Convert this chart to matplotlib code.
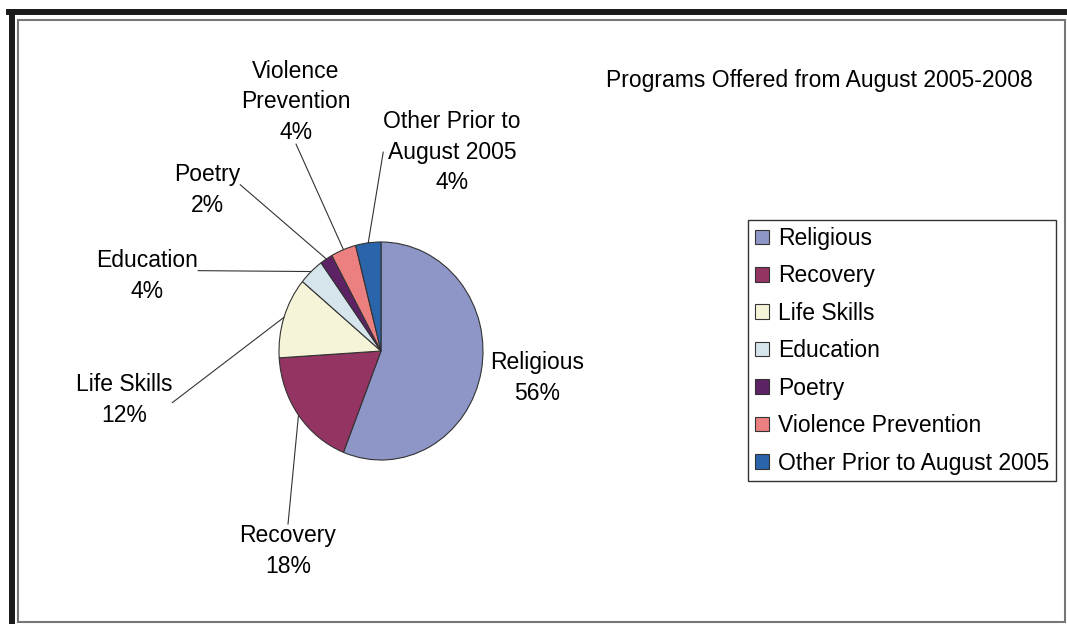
import numpy as np
import matplotlib
matplotlib.use("Agg")
import matplotlib.pyplot as plt
from matplotlib.lines import Line2D
from matplotlib.patches import Rectangle

plt.rcParams['font.family'] = ['Liberation Sans', 'DejaVu Sans']

# data
categories = ["Religious", "Recovery", "Life Skills", "Education", "Poetry",
              "Violence Prevention", "Other Prior to August 2005"]
shares = [56, 18, 12, 4, 2, 4, 4]
colors = ["#8d96c6", "#943462", "#f6f4d8", "#d6e5ec", "#5c2263", "#ec8080", "#2a64aa"]
label_texts = ["Religious", "Recovery", "Life Skills", "Education", "Poetry",
               "Violence\nPrevention", "Other Prior to\nAugust 2005"]

title = "Programs Offered from August 2005-2008"

W, H = 1067, 624
fig = plt.figure(figsize=(W / 100, H / 100), dpi=100)

# pie axes, slightly taller than wide like the original
cx, cy, rx, ry = 381, 351, 102, 109
ax = fig.add_axes([(cx - rx) / W, (H - cy - ry) / H, 2 * rx / W, 2 * ry / H])

wedges, _ = ax.pie(shares, colors=colors, startangle=90, counterclock=False,
                   radius=1, wedgeprops=dict(edgecolor='#333333', linewidth=0.8))
# pie() sets its own limits/aspect, undo that so the pie fills the axes box
ax.set_aspect('auto')
ax.set_xlim(-1, 1)
ax.set_ylim(-1, 1)
ax.axis('off')

# label placement (pixel centre of text block, and where the leader line meets the text)
label_pos = [(537, 378), (288, 551), (124, 400), (147, 276), (207, 190), (296, 102), (452, 152)]
rel_pos = [None, (0.5, 1.0), (1.0, 0.45), (1.0, 0.6), (1.0, 0.6), (0.5, 0.0), (0.0, 0.5)]
fs = 16.5
lsp = 1.42

for w, txt, s, pos, rp in zip(wedges, label_texts, shares, label_pos, rel_pos):
    mid = np.deg2rad((w.theta1 + w.theta2) / 2)
    xy = (np.cos(mid), np.sin(mid))
    label = f"{txt}\n{s}%"
    if rp is None:
        fig.text(pos[0] / W, 1 - pos[1] / H, label, ha='center', va='center',
                 fontsize=fs, linespacing=lsp)
    else:
        ax.annotate(label, xy=xy, xycoords='data',
                    xytext=(pos[0], H - pos[1]), textcoords='figure pixels',
                    ha='center', va='center', fontsize=fs, linespacing=lsp,
                    annotation_clip=False,
                    arrowprops=dict(arrowstyle='-', color='#333333', lw=0.8,
                                    relpos=rp, shrinkA=0, shrinkB=0, patchA=None))

fig.text(606 / W, 1 - 80 / H, title, ha='left', va='center', fontsize=fs)

fig.legend(wedges, categories, loc='upper left',
           bbox_to_anchor=(748 / W, 1 - 220 / H), borderaxespad=0,
           fontsize=fs, handlelength=0.6, handleheight=0.6, handletextpad=0.4,
           labelspacing=0.63, borderpad=0.3, fancybox=False,
           edgecolor='#333333', framealpha=1)

# frame around the chart
fig.add_artist(Line2D([12 / W, 12 / W], [0, 1 - 12 / H], color='#1a1a1a', lw=4.3,
                      transform=fig.transFigure))
fig.add_artist(Line2D([9 / W, 1], [1 - 12 / H, 1 - 12 / H], color='#1a1a1a', lw=4.3,
                      transform=fig.transFigure))
fig.add_artist(Rectangle((18 / W, 2 / H), (1065 - 18) / W, (622 - 20) / H,
                         transform=fig.transFigure, fill=False,
                         edgecolor='#777777', lw=1.5))

fig.savefig("out.png", dpi=100)
